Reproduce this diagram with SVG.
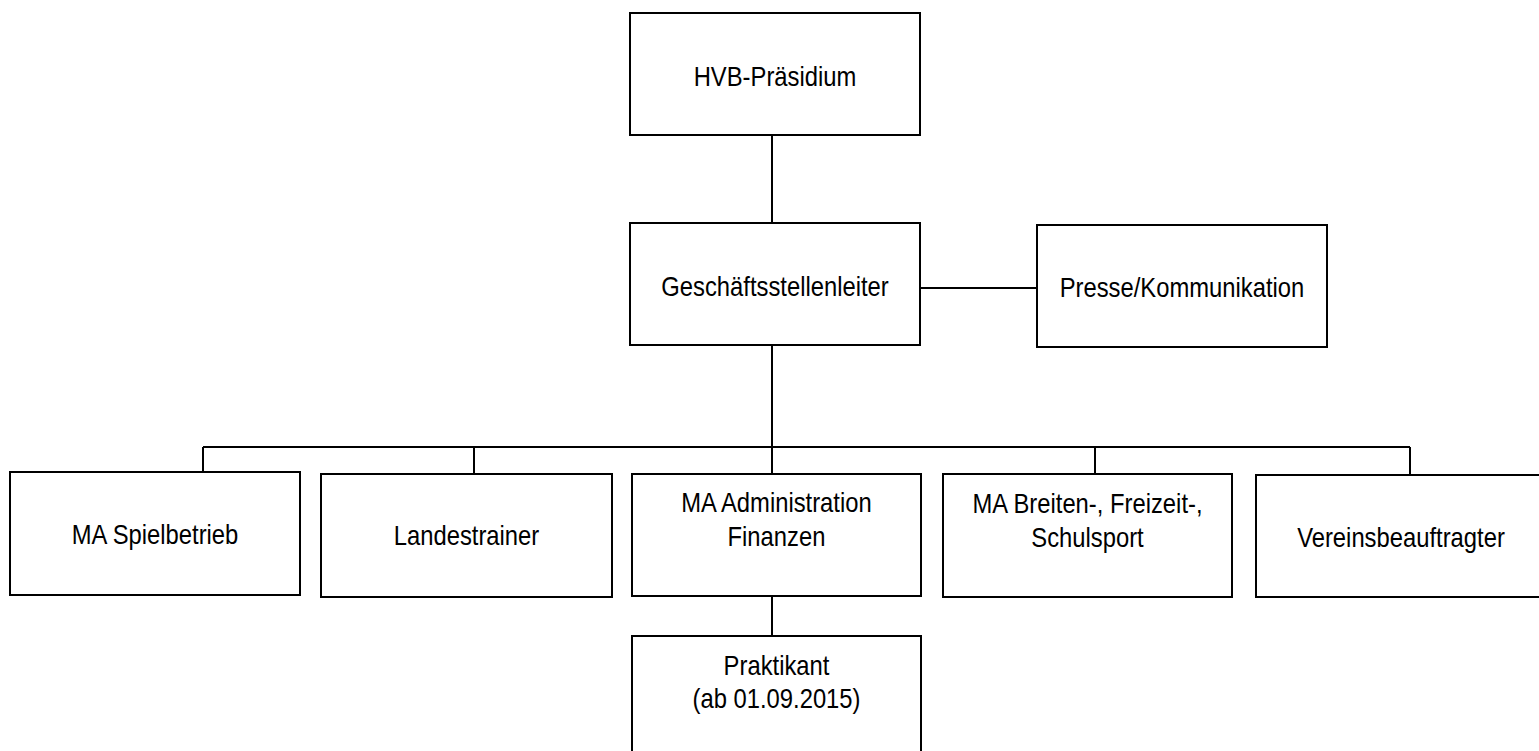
<svg xmlns="http://www.w3.org/2000/svg" width="1539" height="751" viewBox="0 0 1539 751">
<style>
.box{fill:#fff;stroke:#000;stroke-width:2}
.lbl{font-family:"Liberation Sans",Arial,sans-serif;font-size:28.5px;fill:#000;text-anchor:middle}
.conn{stroke:#000;stroke-width:2;fill:none}
</style>
<rect width="1539" height="751" fill="#fff"/>
<g id="connectors">
<line class="conn" x1="772" y1="135" x2="772" y2="223"/>
<line class="conn" x1="920" y1="288" x2="1037" y2="288"/>
<line class="conn" x1="772" y1="345" x2="772" y2="474"/>
<line class="conn" x1="203" y1="447" x2="1410" y2="447"/>
<line class="conn" x1="203" y1="447" x2="203" y2="472"/>
<line class="conn" x1="474" y1="447" x2="474" y2="474"/>
<line class="conn" x1="1095" y1="447" x2="1095" y2="474"/>
<line class="conn" x1="1410" y1="447" x2="1410" y2="475"/>
<line class="conn" x1="772" y1="596" x2="772" y2="636"/>
</g>
<g id="hvb">
<rect class="box" x="630" y="13" width="290" height="122"/>
<text class="lbl" transform="translate(775,86) scale(0.835,1)">HVB-Präsidium</text>
</g>
<g id="gsl">
<rect class="box" x="630" y="223" width="290" height="122"/>
<text class="lbl" transform="translate(775,296) scale(0.835,1)">Geschäftsstellenleiter</text>
</g>
<g id="presse">
<rect class="box" x="1037" y="225" width="290" height="122"/>
<text class="lbl" transform="translate(1182,297) scale(0.835,1)">Presse/Kommunikation</text>
</g>
<g id="spielbetrieb">
<rect class="box" x="10" y="472" width="290" height="123"/>
<text class="lbl" transform="translate(155,544) scale(0.835,1)">MA Spielbetrieb</text>
</g>
<g id="landestrainer">
<rect class="box" x="321" y="474" width="291" height="123"/>
<text class="lbl" transform="translate(466.5,545) scale(0.835,1)">Landestrainer</text>
</g>
<g id="administration">
<rect class="box" x="632" y="474" width="289" height="122"/>
<text class="lbl" transform="translate(776.5,512) scale(0.835,1)"><tspan x="0" y="0">MA Administration</tspan><tspan x="0" y="34">Finanzen</tspan></text>
</g>
<g id="breitensport">
<rect class="box" x="943" y="474" width="289" height="123"/>
<text class="lbl" transform="translate(1087.5,513) scale(0.835,1)"><tspan x="0" y="0">MA Breiten-, Freizeit-,</tspan><tspan x="0" y="34">Schulsport</tspan></text>
</g>
<g id="vereinsbeauftragter">
<rect class="box" x="1256" y="475" width="290" height="122"/>
<text class="lbl" transform="translate(1401,547) scale(0.835,1)">Vereinsbeauftragter</text>
</g>
<g id="praktikant">
<rect class="box" x="632" y="636" width="289" height="130"/>
<text class="lbl" transform="translate(776.5,675) scale(0.835,1)"><tspan x="0" y="0">Praktikant</tspan><tspan x="0" y="33">(ab 01.09.2015)</tspan></text>
</g>
</svg>
